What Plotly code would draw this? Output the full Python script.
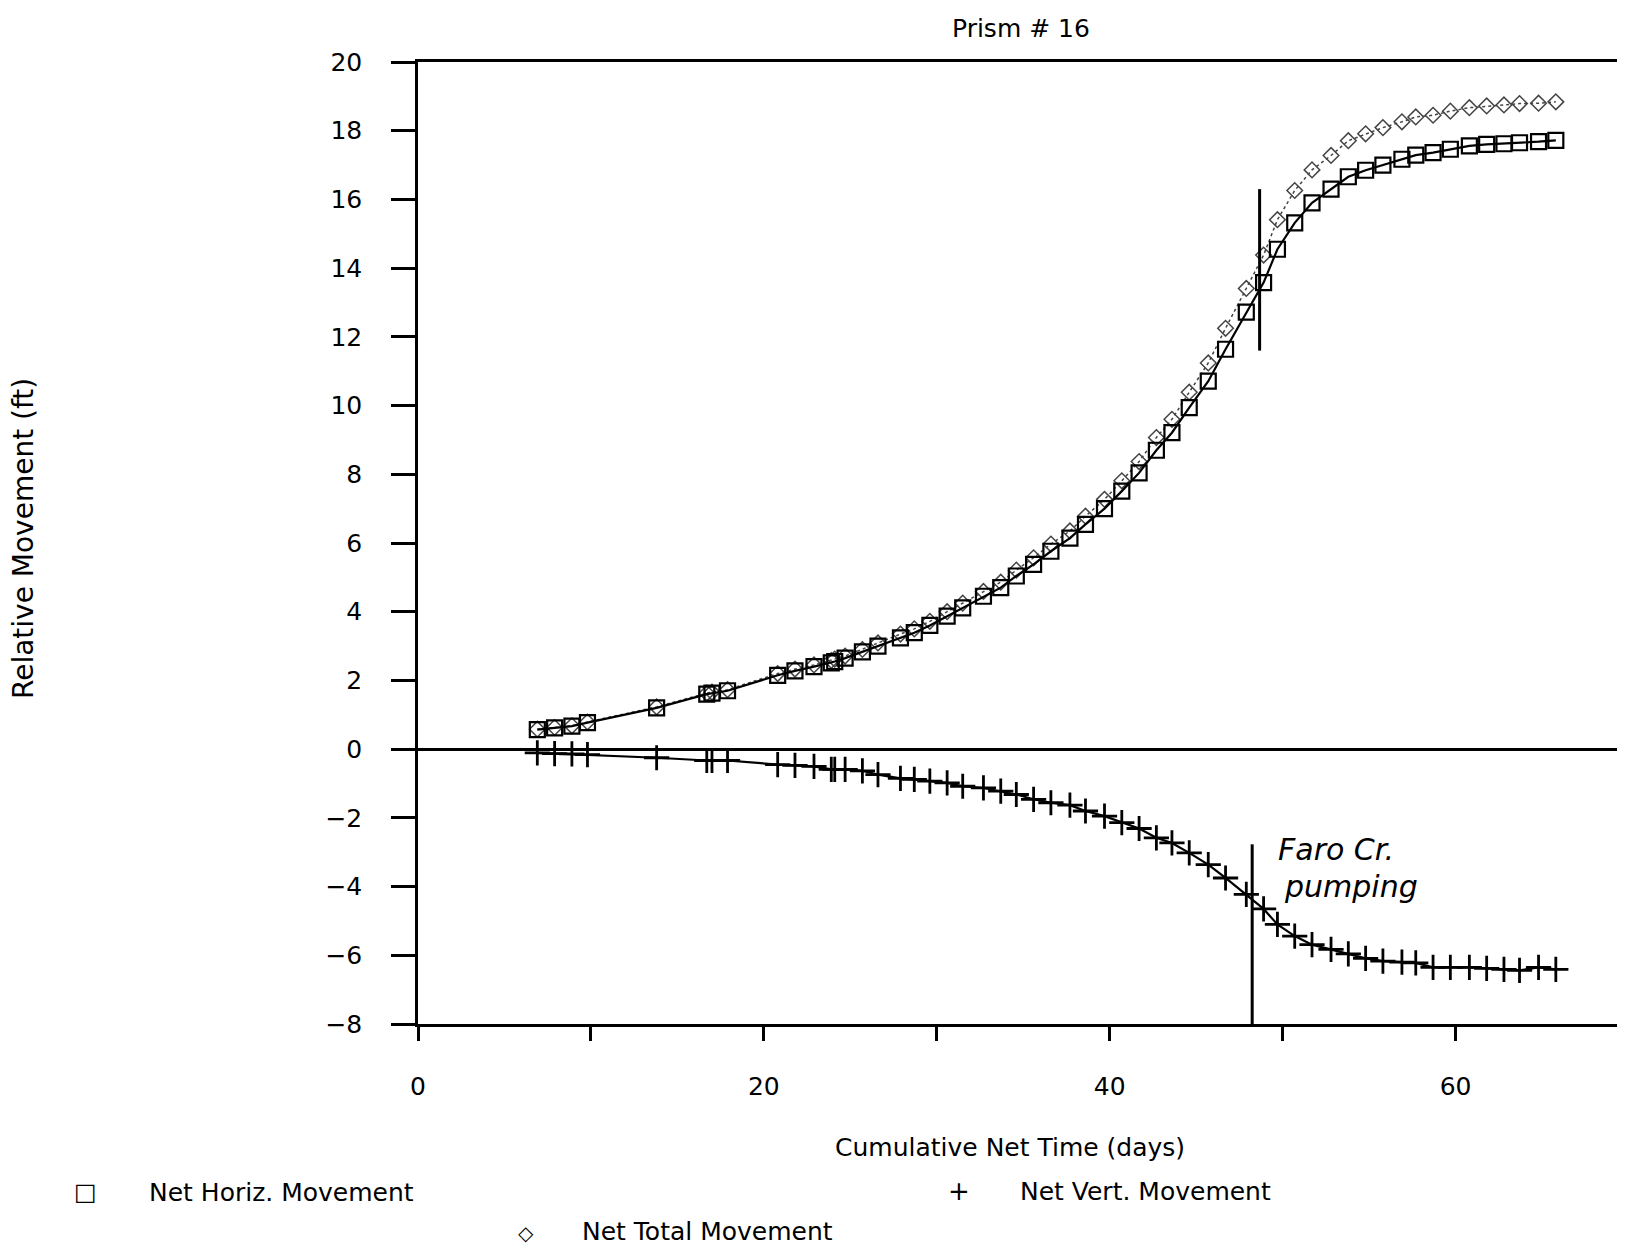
import plotly.graph_objects as go

# ---- data ----
days = [6.9, 7.9, 8.9, 9.8, 13.8, 16.7, 17.0, 17.9, 20.8, 21.8, 22.9, 23.9, 24.1, 24.7,
        25.7, 26.6, 27.9, 28.7, 29.6, 30.6, 31.5, 32.7, 33.7, 34.6, 35.6, 36.6, 37.7,
        38.6, 39.7, 40.7, 41.7, 42.7, 43.6, 44.6, 45.7, 46.7, 47.9, 48.9, 49.7, 50.7,
        51.7, 52.8, 53.8, 54.8, 55.8, 56.9, 57.7, 58.7, 59.7, 60.8, 61.8, 62.8, 63.7,
        64.8, 65.8]

net_horiz = [0.57, 0.62, 0.67, 0.77, 1.20, 1.60, 1.63, 1.70, 2.15, 2.28, 2.40, 2.51, 2.55,
             2.65, 2.83, 3.00, 3.24, 3.39, 3.60, 3.87, 4.11, 4.45, 4.70, 5.04, 5.38, 5.76,
             6.14, 6.54, 7.00, 7.51, 8.04, 8.70, 9.21, 9.94, 10.71, 11.64, 12.72, 13.58,
             14.55, 15.32, 15.90, 16.30, 16.66, 16.85, 17.00, 17.17, 17.29, 17.36, 17.46,
             17.56, 17.60, 17.62, 17.65, 17.68, 17.72]

net_vert = [-0.11, -0.13, -0.14, -0.16, -0.25, -0.33, -0.33, -0.33, -0.45, -0.47, -0.50,
            -0.59, -0.59, -0.59, -0.63, -0.74, -0.85, -0.88, -0.93, -0.98, -1.08, -1.13,
            -1.22, -1.32, -1.46, -1.56, -1.63, -1.80, -1.95, -2.14, -2.31, -2.58, -2.73,
            -3.02, -3.36, -3.75, -4.23, -4.65, -5.10, -5.44, -5.69, -5.83, -5.96, -6.09,
            -6.17, -6.20, -6.22, -6.35, -6.35, -6.35, -6.38, -6.41, -6.44, -6.35, -6.41]

net_total = [0.58, 0.63, 0.68, 0.79, 1.23, 1.63, 1.66, 1.73, 2.20, 2.33, 2.45, 2.58, 2.62,
             2.71, 2.90, 3.09, 3.35, 3.50, 3.72, 4.00, 4.25, 4.59, 4.86, 5.21, 5.57, 5.97,
             6.35, 6.78, 7.27, 7.81, 8.37, 9.07, 9.60, 10.39, 11.24, 12.25, 13.41, 14.38,
             15.41, 16.26, 16.86, 17.28, 17.71, 17.91, 18.09, 18.26, 18.40, 18.45, 18.57,
             18.67, 18.72, 18.75, 18.79, 18.80, 18.84]

x_tick_vals = [0, 10, 20, 30, 40, 50, 60]
x_tick_text = ["0", "", "20", "", "40", "", "60"]
y_tick_vals = [-8, -6, -4, -2, 0, 2, 4, 6, 8, 10, 12, 14, 16, 18, 20]

# pumping event markers (x, y_from, y_to)
event_upper = [48.67, 11.6, 16.3]
event_lower = [48.24, -8.0, -2.77]

FONT = "DejaVu Sans"

# the page body adds an 8px offset; plot area is placed at window px 418..1625 x 62..1024
OFF = 8
W, H = 1625 - OFF, 1246 - OFF
L, T = 418 - OFF, 62 - OFF
B = H - (1024 - OFF)

fig = go.Figure()

fig.add_trace(go.Scatter(
    x=days, y=net_total, mode="lines+markers", name="Net Total Movement",
    line=dict(color="#444444", width=1.5, dash="dot"),
    marker=dict(symbol="diamond-open", size=12, color="#444444", line=dict(width=1.5)),
))
fig.add_trace(go.Scatter(
    x=days, y=net_horiz, mode="lines+markers", name="Net Horiz. Movement",
    line=dict(color="black", width=2.2),
    marker=dict(symbol="square-open", size=15, color="black", line=dict(width=2.2)),
))
fig.add_trace(go.Scatter(
    x=days, y=net_vert, mode="lines+markers", name="Net Vert. Movement",
    line=dict(color="black", width=2.2),
    marker=dict(symbol="cross-thin-open", size=18, color="black", line=dict(width=2.8)),
))

# event lines
fig.add_shape(type="line", x0=event_upper[0], x1=event_upper[0], y0=event_upper[1], y1=event_upper[2],
              line=dict(color="black", width=3))
fig.add_shape(type="line", x0=event_lower[0], x1=event_lower[0], y0=event_lower[1], y1=event_lower[2],
              line=dict(color="black", width=3))

def px2paper(X, Y):
    # X, Y are window pixel positions
    return (X - 418) / 1207, (1024 - Y) / 962

anns = []
def add_text(text, X, Y, size=24, xanchor="center", textangle=0, style="normal"):
    xp, yp = px2paper(X, Y)
    anns.append(dict(text=text, x=xp, y=yp, xref="paper", yref="paper", showarrow=False,
                     xanchor=xanchor, yanchor="middle", textangle=textangle, align="left",
                     font=dict(family=FONT, size=size, color="black", style=style)))

add_text("Prism # 16", 1021, 28, size=25)
add_text("Cumulative Net Time (days)", 1010, 1147, size=25)
add_text("Relative Movement (ft)", 23, 539, size=28, textangle=-90)
add_text("□", 85, 1192, size=24)
add_text("Net Horiz. Movement", 147, 1192, size=25, xanchor="left")
add_text("+", 959, 1191, size=26)
add_text("Net Vert. Movement", 1018, 1191, size=25, xanchor="left")
add_text("◇", 526, 1233, size=20)
add_text("Net Total Movement", 580, 1231, size=25, xanchor="left")
add_text("Faro Cr.", 1276, 850, size=30, xanchor="left", style="italic")
add_text("pumping", 1282, 886, size=30, xanchor="left", style="italic")

fig.update_layout(
    width=W, height=H,
    margin=dict(l=L, r=0, t=T, b=B),
    paper_bgcolor="white", plot_bgcolor="white",
    showlegend=False,
    annotations=anns,
    font=dict(family=FONT, size=24, color="black"),
)
fig.update_xaxes(
    range=[0, 69.8], showgrid=False, zeroline=False,
    showline=True, linecolor="black", linewidth=2.5, mirror=True,
    ticks="outside", ticklen=14, tickwidth=2.5, tickcolor="black",
    tickvals=x_tick_vals, ticktext=x_tick_text, ticklabelstandoff=24,
    tickfont=dict(family=FONT, size=25, color="black"),
)
fig.update_yaxes(
    range=[-8, 20], showgrid=False,
    zeroline=True, zerolinecolor="black", zerolinewidth=2.5,
    showline=True, linecolor="black", linewidth=2.5, mirror=False,
    ticks="outside", ticklen=24, tickwidth=2.5, tickcolor="black",
    tickvals=y_tick_vals, ticklabelstandoff=24,
    tickfont=dict(family=FONT, size=25, color="black"),
)

fig.write_html("out.html")
